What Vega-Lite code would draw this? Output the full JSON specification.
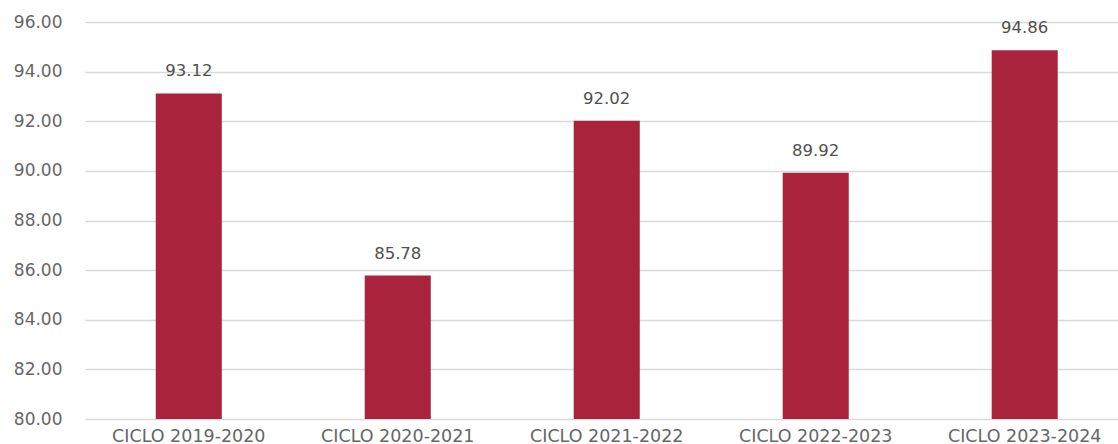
{
  "$schema": "https://vega.github.io/schema/vega-lite/v6.json",
  "autosize": {"type": "none"},
  "width": 1033,
  "height": 397,
  "padding": {"left": 85, "top": 22, "right": 0, "bottom": 25},
  "background": "white",
  "config": {"view": {"stroke": null}, "font": "DejaVu Sans"},
  "data": {"values": [
    {"ciclo": "CICLO 2019-2020", "valor": 93.12},
    {"ciclo": "CICLO 2020-2021", "valor": 85.78},
    {"ciclo": "CICLO 2021-2022", "valor": 92.02},
    {"ciclo": "CICLO 2022-2023", "valor": 89.92},
    {"ciclo": "CICLO 2023-2024", "valor": 94.86}
  ]},
  "encoding": {
    "x": {"field": "ciclo", "type": "nominal", "sort": null,
      "scale": {"paddingInner": 0.684, "paddingOuter": 0.3135, "align": 0.54},
      "axis": {"title": null, "labelAngle": 0, "domain": false, "ticks": false, "labelFontSize": 17.5, "labelColor": "#666666", "labelPadding": 8, "labelFont": "DejaVu Sans"}},
    "y": {"field": "valor", "type": "quantitative",
      "scale": {"domain": [80, 96], "nice": false, "zero": false},
      "axis": {"title": null, "values": [80, 82, 84, 86, 88, 90, 92, 94, 96], "format": ".2f", "domain": false, "ticks": false, "labelFontSize": 17, "labelColor": "#666666", "labelPadding": 23, "gridColor": "#d9d9d9", "gridWidth": 1.5, "labelFont": "DejaVu Sans"}}
  },
  "layer": [
    {"mark": {"type": "bar", "color": "#a9233c", "clip": true}, "encoding": {"y2": {"datum": 80}}},
    {"mark": {"type": "text", "baseline": "alphabetic", "dy": -17, "fontSize": 16.5, "color": "#505050", "font": "DejaVu Sans"},
      "encoding": {"text": {"field": "valor", "type": "quantitative", "format": ".2f"}}}
  ]
}
